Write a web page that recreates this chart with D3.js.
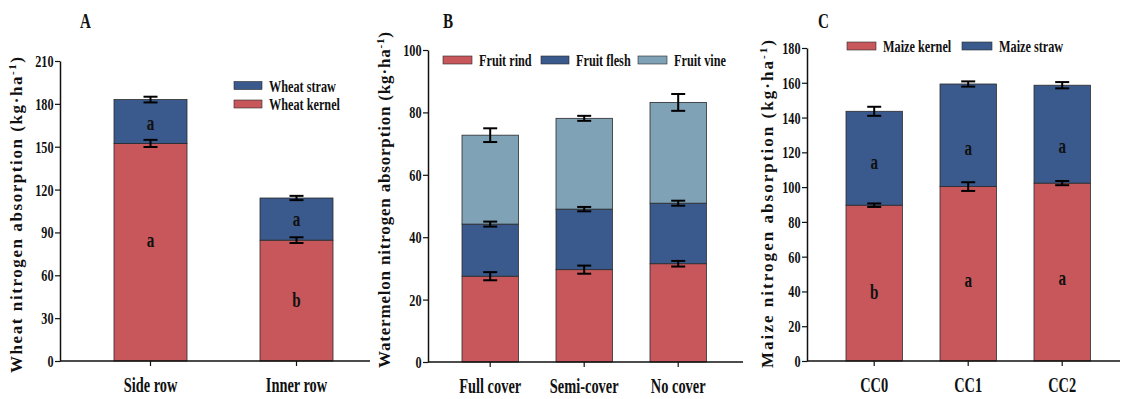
<!DOCTYPE html>
<html>
<head>
<meta charset="utf-8">
<script src="https://cdn.jsdelivr.net/npm/d3@7"></script>
<style>
  body { margin: 0; background: #fff; }
  text { font-family: "Liberation Serif", "Times New Roman", serif; font-weight: bold; fill: #111; }
</style>
</head>
<body>
<svg id="mainsvg" width="1125" height="399"></svg>
<script>
// ---- panel A: wheat
var wheatCats = ["Side row", "Inner row"];
var wheatKernel = [152.3, 84.6];
var wheatKernelErr = [2.5, 2];
var wheatStraw = [30.7, 29.5];
var wheatStrawErr = [2, 1.5];
var wheatKernelLetter = ["a", "b"], wheatKernelLetterY = [84, 42];
var wheatStrawLetter = ["a", "a"], wheatStrawLetterY = [166, 99];
var wheatTicks = [0, 30, 60, 90, 120, 150, 180, 210];

// ---- panel B: watermelon
var melonCats = ["Full cover", "Semi-cover", "No cover"];
var melonRind = [27.5, 29.6, 31.5];
var melonRindErr = [1.3, 1.3, 0.9];
var melonFlesh = [16.7, 19.4, 19.4];
var melonFleshErr = [0.8, 0.7, 0.8];
var melonVine = [28.5, 29.1, 32.3];
var melonVineErr = [2.2, 0.8, 2.7];
var melonTicks = [0, 20, 40, 60, 80, 100];

// ---- panel C: maize
var maizeCats = ["CC0", "CC1", "CC2"];
var maizeKernel = [89.6, 100.3, 102.3];
var maizeKernelErr = [1, 2.5, 1.2];
var maizeStraw = [54, 59, 56.3];
var maizeStrawErr = [2.6, 1.5, 1.8];
var maizeKernelLetter = ["b", "a", "a"], maizeKernelLetterY = [39, 46, 47];
var maizeStrawLetter = ["a", "a", "a"], maizeStrawLetterY = [114, 122, 123];
var maizeTicks = [0, 20, 40, 60, 80, 100, 120, 140, 160, 180];

var RED = "#c8575b", BLUE = "#3a5a8d", VINE = "#80a2b7";
var SX = 0.72; // condensed serif look

var svg = d3.select("#mainsvg");

function txt(g, x, y, s, size, anchor) {
  return g.append("text")
    .attr("transform", "translate(" + x + "," + y + ") scale(" + SX + ",1)")
    .attr("text-anchor", anchor || "start")
    .style("font-size", size + "px")
    .text(s);
}

function panel(cfg) {
  var g = svg.append("g");
  var y = d3.scaleLinear().domain([0, cfg.ymax]).range([cfg.y0, cfg.y1]);
  var x = d3.scaleBand().domain(cfg.cats).range(cfg.xr)
    .paddingInner(cfg.pi).paddingOuter(cfg.pi / 2);

  // stacked segments
  var base = cfg.cats.map(function () { return 0; });
  cfg.series.forEach(function (s) {
    var rows = cfg.cats.map(function (c, i) {
      var r = { c: c, lo: base[i], hi: base[i] + s.values[i], err: s.err[i] };
      base[i] = r.hi;
      return r;
    });
    s.rows = rows;
    g.append("g").selectAll("rect").data(rows).enter().append("rect")
      .attr("x", function (d) { return x(d.c); })
      .attr("width", x.bandwidth())
      .attr("y", function (d) { return y(d.hi); })
      .attr("height", function (d) { return y(d.lo) - y(d.hi); })
      .attr("fill", s.color)
      .attr("stroke", "#2a2a2a")
      .attr("stroke-width", 0.8);
  });

  // error bars
  cfg.series.forEach(function (s) {
    var eg = g.append("g").attr("stroke", "#000").attr("stroke-width", 2);
    s.rows.forEach(function (d) {
      var cx = x(d.c) + x.bandwidth() / 2;
      eg.append("line").attr("x1", cx).attr("x2", cx)
        .attr("y1", y(d.hi - d.err)).attr("y2", y(d.hi + d.err));
      [d.hi - d.err, d.hi + d.err].forEach(function (v) {
        eg.append("line").attr("x1", cx - 7).attr("x2", cx + 7)
          .attr("y1", y(v)).attr("y2", y(v));
      });
    });
  });

  // significance letters
  (cfg.letters || []).forEach(function (L) {
    cfg.cats.forEach(function (c, i) {
      txt(g, x(c) + x.bandwidth() / 2, y(L.at[i]) + 6, L.text[i], 21, "middle");
    });
  });

  // y axis
  var ya = g.append("g").attr("transform", "translate(" + cfg.ax + ",0)")
    .call(d3.axisLeft(y).tickValues(cfg.ticks).tickSize(5).tickSizeOuter(0).tickPadding(4));
  ya.select(".domain").attr("stroke", "#111").attr("stroke-width", 1.5);
  ya.selectAll(".tick line").attr("stroke", "#111").attr("stroke-width", 1.2);
  ya.selectAll(".tick text")
    .attr("transform", "scale(" + SX + ",1)")
    .style("font-family", "Liberation Serif, serif")
    .style("font-weight", "bold").style("font-size", "17px").attr("fill", "#111");

  // x axis
  g.append("line").attr("x1", cfg.ax).attr("x2", cfg.axEnd)
    .attr("y1", cfg.y0).attr("y2", cfg.y0)
    .attr("stroke", "#111").attr("stroke-width", 1.5);
  cfg.cats.forEach(function (c) {
    var cx = x(c) + x.bandwidth() / 2;
    g.append("line").attr("x1", cx).attr("x2", cx)
      .attr("y1", cfg.y0).attr("y2", cfg.y0 + 5)
      .attr("stroke", "#111").attr("stroke-width", 1.2);
    txt(g, cx, cfg.y0 + 31, c, 20, "middle");
  });

  // y label
  var yl = g.append("text")
    .attr("transform", "translate(" + cfg.lx + "," + cfg.lc + ") rotate(-90)")
    .attr("text-anchor", "middle")
    .attr("textLength", cfg.llen).attr("lengthAdjust", "spacing")
    .style("font-size", "17px");
  yl.append("tspan").text(cfg.label + " (kg\u00b7ha");
  yl.append("tspan").attr("dy", -6).style("font-size", "11px").text("-1");
  yl.append("tspan").attr("dy", 6).text(")");

  // panel title
  txt(g, cfg.tx, 28, cfg.title, 21, "start");

  // legend
  cfg.legend.forEach(function (l) {
    g.append("rect").attr("x", l.x).attr("y", l.y).attr("width", l.w).attr("height", 8)
      .attr("fill", l.color).attr("stroke", "#2a2a2a").attr("stroke-width", 0.6);
    txt(g, l.x + l.w + 7, l.y + 10, l.name, 17, "start");
  });
}

panel({
  title: "A", tx: 80,
  cats: wheatCats, xr: [77.5, 369.5], pi: 0.5,
  ymax: 210, y0: 361, y1: 61, ticks: wheatTicks,
  ax: 60, axEnd: 370,
  label: "Wheat nitrogen absorption", lx: 22, lc: 215, llen: 316,
  series: [
    { values: wheatKernel, err: wheatKernelErr, color: RED },
    { values: wheatStraw, err: wheatStrawErr, color: BLUE }
  ],
  letters: [
    { text: wheatKernelLetter, at: wheatKernelLetterY },
    { text: wheatStrawLetter, at: wheatStrawLetterY }
  ],
  legend: [
    { name: "Wheat straw", color: BLUE, x: 234, y: 81.5, w: 28 },
    { name: "Wheat kernel", color: RED, x: 234, y: 100, w: 28 }
  ]
});

panel({
  title: "B", tx: 443,
  cats: melonCats, xr: [443.2, 725.2], pi: 0.4,
  ymax: 100, y0: 362, y1: 50, ticks: melonTicks,
  ax: 428, axEnd: 743,
  label: "Watermelon nitrogen absorption", lx: 390, lc: 200, llen: 336,
  series: [
    { values: melonRind, err: melonRindErr, color: RED },
    { values: melonFlesh, err: melonFleshErr, color: BLUE },
    { values: melonVine, err: melonVineErr, color: VINE }
  ],
  legend: [
    { name: "Fruit rind", color: RED, x: 443, y: 56, w: 29 },
    { name: "Fruit flesh", color: BLUE, x: 541, y: 56, w: 28 },
    { name: "Fruit vine", color: VINE, x: 638, y: 56, w: 29 }
  ]
});

panel({
  title: "C", tx: 818,
  cats: maizeCats, xr: [827.2, 1109.2], pi: 0.4,
  ymax: 180, y0: 361, y1: 48, ticks: maizeTicks,
  ax: 807, axEnd: 1120,
  label: "Maize nitrogen absorption", lx: 773, lc: 204, llen: 328,
  series: [
    { values: maizeKernel, err: maizeKernelErr, color: RED },
    { values: maizeStraw, err: maizeStrawErr, color: BLUE }
  ],
  letters: [
    { text: maizeKernelLetter, at: maizeKernelLetterY },
    { text: maizeStrawLetter, at: maizeStrawLetterY }
  ],
  legend: [
    { name: "Maize kernel", color: RED, x: 847, y: 42, w: 29 },
    { name: "Maize straw", color: BLUE, x: 962, y: 42, w: 30 }
  ]
});
</script>
</body>
</html>
